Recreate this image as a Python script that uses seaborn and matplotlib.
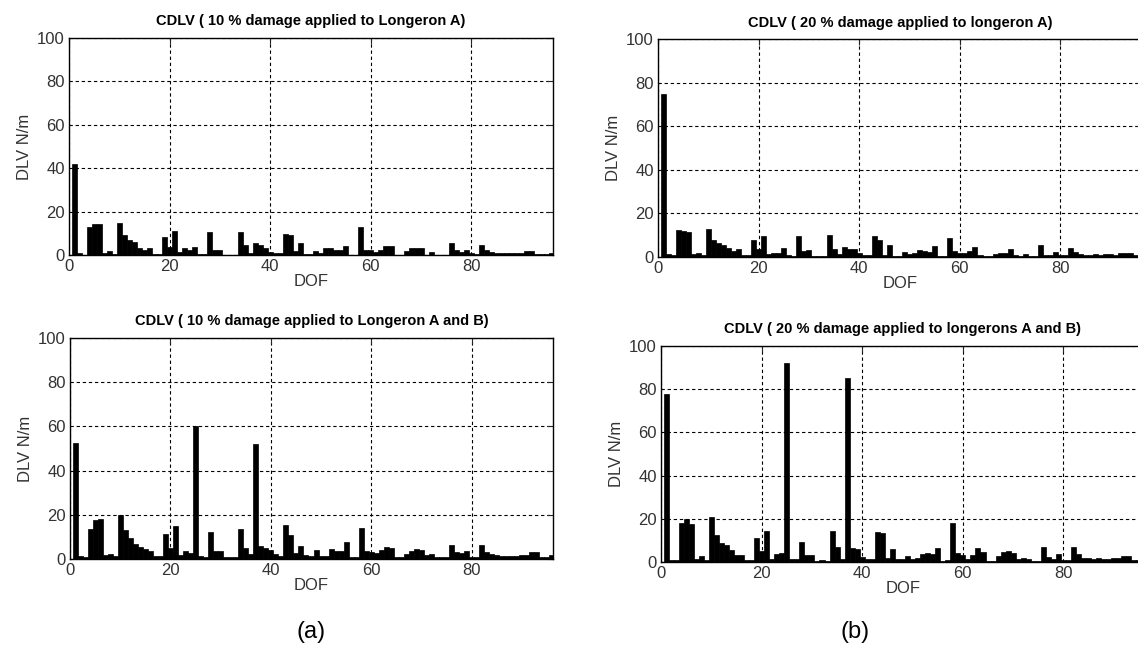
import numpy as np
import pandas as pd
import matplotlib
matplotlib.use("Agg")
import matplotlib.pyplot as plt
import seaborn as sns

# ---------------- data ----------------
dof = list(range(1, 97))

dlv_10_A = [42, 1, 0.2, 13, 14.2, 14.2, 0.8, 2, 0.3, 14.6,
            9, 6.7, 6, 3.4, 2.5, 3.4, 0.5, 0.5, 8.5, 3.9,
            11, 1.2, 3, 2.2, 3.6, 0.5, 0.5, 10.6, 2.4, 2.4,
            0.2, 0.2, 0.2, 10.6, 4.5, 0.8, 5.4, 4.6, 3.4, 1.5,
            1, 0.7, 9.5, 9.2, 2, 5.5, 0.5, 0.5, 2, 1,
            3.4, 3.4, 2.5, 2.5, 4.3, 0.2, 0.2, 12.7, 2.5, 2.2,
            1.6, 2.5, 4, 4.3, 0.2, 0.2, 2, 3.4, 3.4, 3.4,
            0.2, 1.3, 0.2, 0.2, 0.2, 5.5, 2.2, 1.6, 2.2, 1,
            0.3, 4.5, 2.2, 1.6, 1, 0.8, 0.8, 0.8, 0.8, 1,
            2, 2, 0.5, 0.5, 0.5, 1]

dlv_20_A = [75, 1.5, 0.7, 12.5, 12, 11.5, 1.5, 2, 0.7, 12.8,
            8, 6.2, 5.4, 4, 2.7, 3.8, 0.7, 0.7, 7.7, 3.8,
            9.8, 1.5, 2, 2, 4, 1, 0.5, 9.8, 2.7, 3.2,
            0.3, 0.3, 0.3, 10.3, 3.8, 1.5, 4.7, 3.5, 3.5, 2,
            0.7, 0.7, 9.8, 7.7, 0.7, 5.7, 0.3, 0.3, 2.5, 1.5,
            2, 3.2, 2.7, 2.4, 5.1, 0.3, 0.3, 8.7, 2.7, 2,
            2, 2.7, 4.5, 0.7, 0.3, 0.3, 1.5, 2, 2, 3.6,
            1, 0.5, 1.5, 0.3, 0.3, 5.6, 0.7, 0.7, 2.5, 0.7,
            0.7, 4.2, 2.5, 1.5, 1, 1, 1.5, 1, 1.5, 1.5,
            0.7, 2, 2, 2, 1, 1]

dlv_10_AB = [52.5, 1.3, 0.7, 13.7, 17.8, 18.2, 1.8, 2.2, 1.3, 20,
             13, 9.3, 7, 5.5, 4.5, 3.7, 1.3, 1.3, 11.2, 5,
             14.8, 1.8, 3.7, 2.8, 60, 1.3, 0.7, 12, 3.7, 3.7,
             0.7, 1, 0.7, 13.7, 4.8, 2.2, 52, 5.8, 4.8, 4,
             2.2, 1.3, 15.5, 10.7, 2.8, 5.8, 1.8, 1.3, 4, 1.3,
             1.3, 4.5, 3.7, 3.7, 7.8, 0.7, 0.7, 14.2, 3.7, 3.3,
             2.5, 4, 5.5, 5.2, 0.7, 0.7, 2.2, 3.7, 4.3, 4,
             1.8, 2.2, 1, 0.7, 0.7, 6.3, 3.3, 2.5, 3.7, 0.7,
             1, 6.3, 3.3, 2.2, 1.6, 1.3, 1.3, 1.3, 1.3, 1.6,
             1.6, 3.3, 3.3, 1, 1, 1.6]

dlv_20_AB = [78, 1.1, 0.8, 18, 19.7, 17.7, 1.2, 2.8, 0.9, 20.8,
             12.3, 8.9, 7.7, 5.5, 3.1, 3.4, 0.9, 0.9, 11.2, 5.1,
             14.3, 1.2, 3.5, 4, 92, 1.5, 1.2, 9.2, 3.1, 3.1,
             0.5, 0.9, 0.6, 14.3, 6.9, 1.5, 85, 6.6, 5.8, 2.5,
             1.2, 1.5, 14, 13.5, 2, 6.2, 1.5, 1.2, 2.8, 1.2,
             1.8, 3.8, 4.3, 3.5, 6.6, 0.5, 0.9, 18.1, 4, 3.1,
             1.5, 3.4, 6.6, 4.6, 0.5, 0.5, 2.8, 4.6, 5.1, 4.3,
             1.5, 2, 1.2, 0.5, 0.5, 7.1, 2.5, 1.5, 3.5, 0.9,
             1, 7.1, 3.5, 1.8, 1.8, 1.5, 1.8, 1.5, 1.2, 2,
             2, 3, 3, 1, 1, 1]

titles = ["CDLV ( 10 % damage applied to Longeron A)",
          "CDLV ( 20 % damage applied to longeron A)",
          "CDLV ( 10 % damage applied to Longeron A and B)",
          "CDLV ( 20 % damage applied to longerons A and B)"]
series = [dlv_10_A, dlv_20_A, dlv_10_AB, dlv_20_AB]
xticks = [0, 20, 40, 60, 80]
yticks = [0, 20, 40, 60, 80, 100]
xlabel = "DOF"
ylabel = "DLV N/m"
panel_labels = ["(a)", "(b)"]

# ---------------- style ----------------
sns.set_style("white")
plt.rcParams['font.family'] = ['Liberation Sans', 'DejaVu Sans']

W, H = 1138, 653
fig = plt.figure(figsize=(W / 100, H / 100), dpi=100)

# axes boxes in pixels: left, top, right, bottom
boxes = [(69, 38, 553, 255),
         (658, 39, 1142, 257),
         (70, 338, 553, 559),
         (661, 346, 1145, 562)]

txt_col = '#333333'
for box, title, vals in zip(boxes, titles, series):
    l, t, r, b = box
    ax = fig.add_axes([l / W, 1 - b / H, (r - l) / W, (b - t) / H])
    df = pd.DataFrame({"DOF": dof, "DLV": vals})
    sns.barplot(data=df, x="DOF", y="DLV", native_scale=True, width=1.0,
                color='black', saturation=1, edgecolor='black', linewidth=0.5,
                errorbar=None, ax=ax, zorder=3)
    ax.set_xlim(0, 96.2)
    ax.set_ylim(0, 100)
    ax.set_xticks(xticks)
    ax.set_yticks(yticks)
    ax.set_xticklabels([str(v) for v in xticks])
    ax.set_yticklabels([str(v) for v in yticks])
    ax.grid(True, color='black', linestyle=(0, (3, 2.5)), linewidth=0.8, zorder=1)
    ax.set_axisbelow(True)
    ax.tick_params(direction='in', length=4, width=0.8, labelsize=12,
                   labelcolor=txt_col, top=True, right=True, pad=3)
    for s in ax.spines.values():
        s.set_color('black')
        s.set_linewidth(1.0)
        s.set_zorder(5)
    ax.set_title(title, fontsize=10.5, fontweight='bold', pad=9, color='black')
    ax.set_xlabel(xlabel, fontsize=12, color=txt_col, labelpad=0)
    ax.set_ylabel(ylabel, fontsize=12, color=txt_col, labelpad=4)

fig.text(311 / W, 1 - 632 / H, panel_labels[0], fontsize=17, ha='center', va='center', color='black')
fig.text(855 / W, 1 - 632 / H, panel_labels[1], fontsize=17, ha='center', va='center', color='black')

fig.savefig("out.png", dpi=100, facecolor='white')
